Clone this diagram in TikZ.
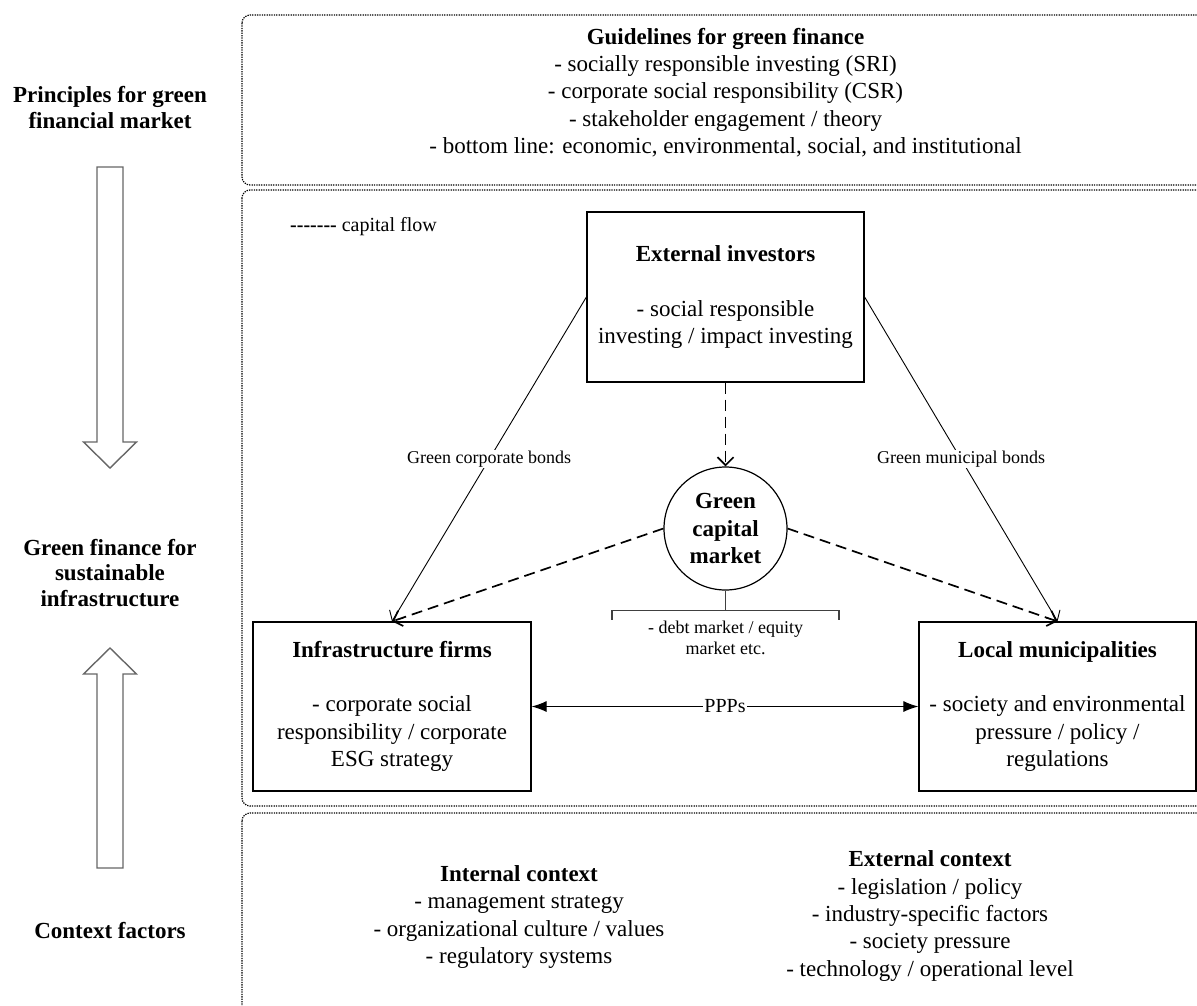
\documentclass[tikz,border=0pt]{standalone}
\usepackage{fontspec}
\setmainfont{Liberation Serif}
\usetikzlibrary{arrows.meta,positioning}
\newcommand\gfmain{\fontsize{23}{27.3}\selectfont}
\newcommand\gfside{\fontsize{23}{25.5}\selectfont\bfseries}
\newcommand\gfsmall{\fontsize{18}{20.5}\selectfont}
\newcommand\gfhy{\mbox{-}}
\tikzset{
  zone/.style={draw=black, line width=1.2pt, dash pattern=on 1.3pt off 1.1pt, rounded corners=8pt},
  actor/.style={draw, line width=1.2pt, minimum width=277pt, minimum height=170pt, align=center, font=\gfmain, inner sep=0pt},
  flow/.style={-{Straight Barb[length=8pt,width=16pt]}, line width=0.9pt},
  capflow/.style={flow, line width=1.7pt, dash pattern=on 11pt off 6pt},
  bigarrow/.style={draw=black!60, line width=1.4pt, fill=white},
  edgelabel/.style={fill=white, font=\gfsmall, inner sep=1pt}
}
\begin{document}
\begin{tikzpicture}[x=1pt, y=-1pt]
  \useasboundingbox (0,0) rectangle (1197,1005);
  % dotted frames
  \draw[zone] (242,15) rectangle (1215,185);
  \draw[zone] (242,190) rectangle (1215,806);
  \draw[zone] (242,813) rectangle (1215,1025);

  % left column
  \node[font=\gfside, align=center] (principles) at (110,107.5) {Principles for green\\financial market};
  \node[font=\gfside, align=center] (greenfin) at (110,573) {Green finance for\\sustainable\\infrastructure};
  \node[font=\gfside] (context) at (110,930) {Context factors};
  \draw[bigarrow] (97,167) -- (123,167) -- (123,442) -- (136.5,442) -- (110,468) -- (83.5,442) -- (97,442) -- cycle;
  \draw[bigarrow] (97,868) -- (123,868) -- (123,674) -- (136.5,674) -- (110,648) -- (83.5,674) -- (97,674) -- cycle;

  % principles
  \node[font=\gfmain, align=center] (guide) at (725.5,92.5) {\textbf{Guidelines for green finance}\\- socially responsible investing (SRI)\\- corporate social responsibility (CSR)\\- stakeholder engagement / theory\\- bottom line: economic, environmental, social, and institutional};

  \node[font=\fontsize{20}{24}\selectfont, anchor=west, inner sep=0pt] (legend) at (290,227) {\textbf{\gfhy\gfhy\gfhy\gfhy\gfhy\gfhy\gfhy} capital flow};

  % actors
  \node[actor] (investors) at (725.5,297) {\textbf{External investors}\\[27pt]- social responsible\\investing / impact investing};
  \node[actor, minimum width=278pt, minimum height=169pt] (firms) at (392,706.5) {\textbf{Infrastructure firms}\\[27pt]- corporate social\\responsibility / corporate\\ESG strategy};
  \node[actor, minimum height=169pt] (municip) at (1057.5,706.5) {\textbf{Local municipalities}\\[27pt]- society and environmental\\pressure / policy /\\regulations};
  \node[draw, circle, line width=1.2pt, minimum size=123pt, inner sep=0pt, font=\gfmain\bfseries, align=center] (market) at (725.5,528.5) {Green\\capital\\market};

  % flows
  \draw[flow] (investors.west) -- node[edgelabel] {Green corporate bonds} (firms.north);
  \draw[flow] (investors.east) -- node[edgelabel] {Green municipal bonds} (municip.north);
  \draw[capflow] (investors.south) -- (market.north);
  \draw[capflow] (market.west) -- (firms.north);
  \draw[capflow] (market.east) -- (municip.north);
  \draw[{Latex[length=15pt,width=11pt]}-{Latex[length=15pt,width=11pt]}, line width=1.1pt] (firms.east) -- node[fill=white, font=\fontsize{20}{24}\selectfont, inner sep=1pt] {PPPs} (municip.west);

  % market segments
  \coordinate (split) at ([yshift=-20pt]market.south);
  \draw[black!75, line width=1.1pt] (market.south) -- (split);
  \draw[black!75, line width=1.1pt] ([xshift=-113.5pt,yshift=-9pt]split) -- ([xshift=-113.5pt]split) -- ([xshift=113.5pt]split) -- ([xshift=113.5pt,yshift=-9pt]split);
  \node[font=\gfsmall, align=center, below=7pt of split] (segments) {- debt market / equity\\market etc.};

  % context
  \node[font=\gfmain, align=center] (internal) at (519,917) {\textbf{Internal context}\\- management strategy\\- organizational culture / values\\- regulatory systems};
  \node[font=\gfmain, align=center] (external) at (930,916) {\textbf{External context}\\- legislation / policy\\- industry-specific factors\\- society pressure\\- technology / operational level};
\end{tikzpicture}
\end{document}
